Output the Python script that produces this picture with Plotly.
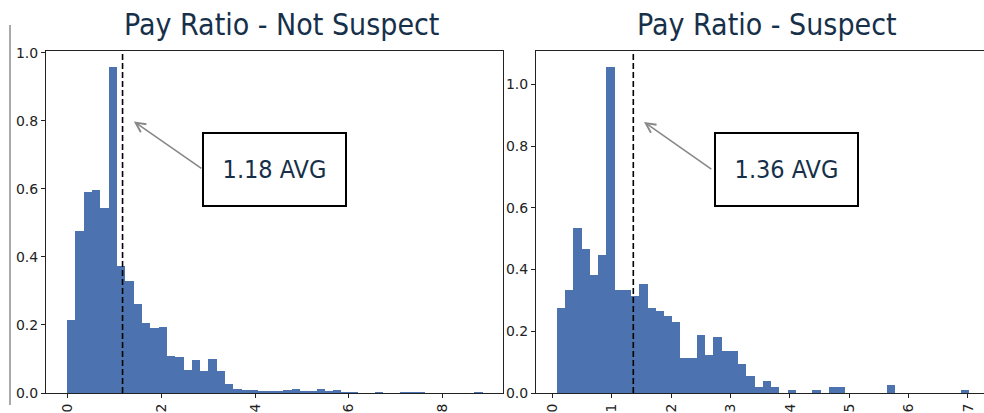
import numpy as np
import plotly.graph_objects as go

# ---- data (density histograms, 50 bins each) ----
left_bin_start = 0.0
left_bin_width = 0.177
left_density = [0.215, 0.477, 0.592, 0.598, 0.545, 0.957, 0.372, 0.328, 0.262, 0.207,
                0.192, 0.194, 0.109, 0.105, 0.068, 0.097, 0.064, 0.100, 0.066, 0.025,
                0.012, 0.010, 0.008, 0.006, 0.005, 0.005, 0.008, 0.012, 0.005, 0.005,
                0.012, 0.005, 0.008, 0.002, 0.002, 0.0, 0.0, 0.002, 0.0, 0.0,
                0.002, 0.002, 0.002, 0.0, 0.0, 0.0, 0.0, 0.0, 0.0, 0.001]
left_avg = 1.18

right_bin_start = 0.07
right_bin_width = 0.139
right_density = [0.277, 0.334, 0.533, 0.467, 0.381, 0.448, 1.057, 0.334, 0.334, 0.313,
                 0.353, 0.277, 0.266, 0.248, 0.229, 0.113, 0.113, 0.189, 0.124, 0.181,
                 0.135, 0.135, 0.095, 0.056, 0.018, 0.038, 0.018, 0.0, 0.009, 0.0,
                 0.0, 0.009, 0.0, 0.018, 0.018, 0.0, 0.0, 0.0, 0.0, 0.0,
                 0.027, 0.0, 0.0, 0.0, 0.0, 0.0, 0.0, 0.0, 0.0, 0.009]
right_avg = 1.36

titles = ["Pay Ratio - Not Suspect", "Pay Ratio - Suspect"]
left_xticks = [0, 2, 4, 6, 8]
right_xticks = [0, 1, 2, 3, 4, 5, 6, 7]
left_yticks = [0.0, 0.2, 0.4, 0.6, 0.8, 1.0]
right_yticks = [0.0, 0.2, 0.4, 0.6, 0.8, 1.0]

BAR = "#4c72b0"
NAVY = "#17304a"
TFONT = "DejaVu Sans Condensed, Liberation Sans Narrow, sans-serif"
W, H = 984, 413

def centers(start, width, n):
    return start + width * (np.arange(n) + 0.5)

fig = go.Figure()
fig.add_trace(go.Bar(x=centers(left_bin_start, left_bin_width, len(left_density)),
                     y=left_density, width=left_bin_width, marker_color=BAR,
                     marker_line_width=0, xaxis="x", yaxis="y", showlegend=False))
fig.add_trace(go.Bar(x=centers(right_bin_start, right_bin_width, len(right_density)),
                     y=right_density, width=right_bin_width, marker_color=BAR,
                     marker_line_width=0, xaxis="x2", yaxis="y2", showlegend=False))

ydom = [1 - 393 / H, 1 - 51 / H]
axis_common = dict(showgrid=False, zeroline=False, showline=True, linecolor="#222",
                   linewidth=1, ticks="outside", ticklen=4, tickcolor="#222",
                   tickfont=dict(family="DejaVu Sans", size=14, color="#222"),
                   mirror=True, automargin=False)

fig.update_layout(
    template="none",
    width=W, height=H, margin=dict(l=0, r=0, t=0, b=0, autoexpand=False),
    plot_bgcolor="white", paper_bgcolor="white", bargap=0,
    xaxis=dict(domain=[46 / W, 503 / W], range=[-0.45, 9.28], tickvals=left_xticks,
               tickangle=-90, anchor="y", **axis_common),
    yaxis=dict(domain=ydom, range=[0, 1.005], tickvals=left_yticks, tickformat=".1f",
               anchor="x", **axis_common),
    xaxis2=dict(domain=[536 / W, 1.0], range=[-0.28, 7.27], tickvals=right_xticks,
                tickangle=-90, anchor="y2", **axis_common),
    yaxis2=dict(domain=ydom, range=[0, 1.108], tickvals=right_yticks, tickformat=".1f",
                anchor="x2", **axis_common),
)

# dashed average lines
fig.add_shape(type="line", xref="x", yref="y domain", x0=left_avg, x1=left_avg, y0=0, y1=1,
              line=dict(color="black", width=1.6, dash="6px,3px"))
fig.add_shape(type="line", xref="x2", yref="y2 domain", x0=right_avg, x1=right_avg, y0=0, y1=1,
              line=dict(color="black", width=1.6, dash="6px,3px"))

# decorative vertical line on the far left
fig.add_shape(type="line", xref="paper", yref="paper", x0=10 / W, x1=10 / W,
              y0=1 - 405 / H, y1=1 - 25 / H, line=dict(color="#555", width=1))

# titles
for t, cx in zip(titles, [281, 767]):
    fig.add_annotation(text=t, xref="paper", yref="paper", x=cx / W, y=1 - 24 / H,
                       showarrow=False, font=dict(family=TFONT, size=30, color=NAVY),
                       xanchor="center", yanchor="middle")

# arrows
fig.add_annotation(text="", x=1.42, y=0.798, xref="x", yref="y", ax=2.89, ay=0.657,
                   axref="x", ayref="y", showarrow=True, arrowhead=5, arrowsize=1.2,
                   arrowwidth=1.6, arrowcolor="#888")
fig.add_annotation(text="", x=1.54, y=0.878, xref="x2", yref="y2", ax=2.70, ay=0.722,
                   axref="x2", ayref="y2", showarrow=True, arrowhead=5, arrowsize=1.2,
                   arrowwidth=1.6, arrowcolor="#888")

# boxes
for avg, cx in zip([left_avg, right_avg], [274.5, 786]):
    fig.add_annotation(text=f"{avg:.2f} AVG", xref="paper", yref="paper",
                       x=cx / W, y=1 - 169.5 / H, showarrow=False, width=141, height=71,
                       bordercolor="black", borderwidth=2, borderpad=0, bgcolor="white",
                       font=dict(family=TFONT, size=25, color=NAVY),
                       xanchor="center", yanchor="middle")

fig.write_html("out.html", config={"displayModeBar": False},
               post_script="document.body.style.margin='0';document.body.style.overflow='hidden';")
